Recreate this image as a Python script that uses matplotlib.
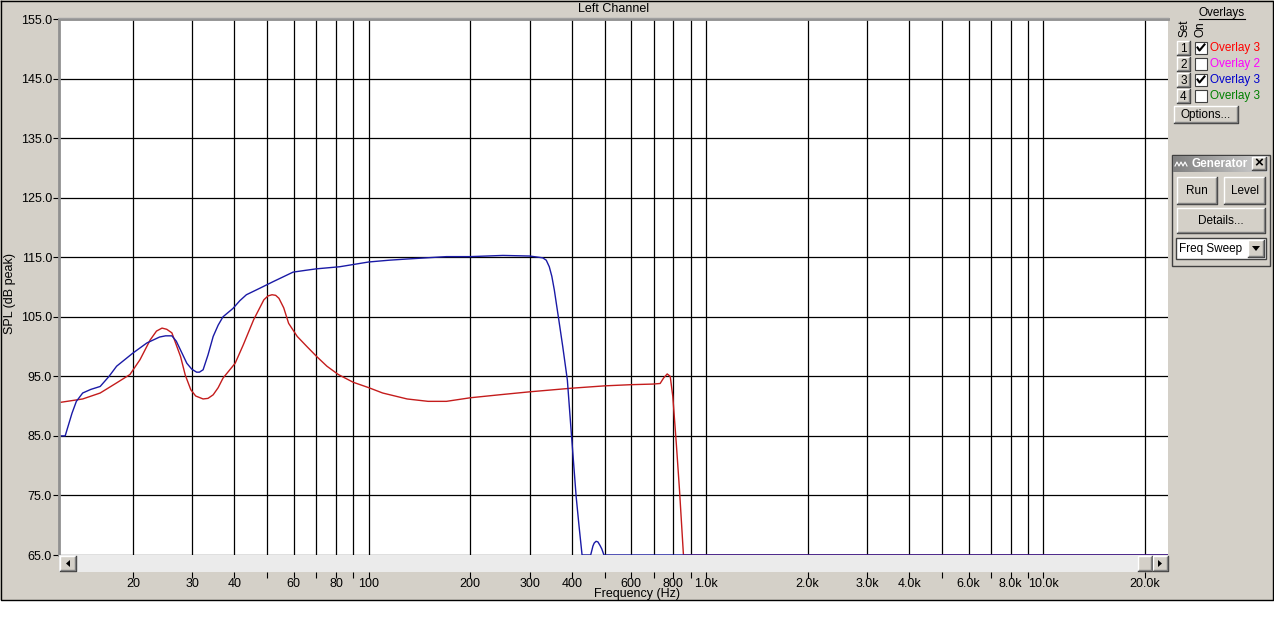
import numpy as np
import matplotlib
matplotlib.use("Agg")
import matplotlib.pyplot as plt
from matplotlib.patches import Rectangle, Polygon

plt.rcParams['font.family'] = ['Liberation Sans', 'DejaVu Sans']

# ---- data
# set 1 (red trace)
red_freq = [12.1, 14.2, 16.0, 17.9, 19.6, 21.0, 22.5, 23.5, 24.4, 25.2, 26.1, 27.7, 28.6,
            29.7, 30.7, 32.3, 33.4, 34.6, 35.8, 37.0, 40.2, 42.5, 45.6, 48.9, 50.3, 51.7,
            53.0, 54.2, 56.0, 57.9, 61.4, 65.6, 70.2, 75.2, 81.3, 90, 100, 110, 130, 150,
            170, 200, 244, 300, 398, 500, 600, 695, 731, 748, 767, 783, 797, 816, 834,
            857, 24000]
red_spl = [90.6, 91.2, 92.2, 93.9, 95.3, 97.8, 101.1, 102.6, 103.1, 102.9, 102.3, 98.3, 95.2,
           92.75, 91.7, 91.2, 91.3, 91.9, 93.1, 94.7, 97.2, 100.3, 104.5, 107.85, 108.5, 108.7,
           108.6, 108.1, 106.5, 103.9, 101.7, 100.0, 98.3, 96.7, 95.3, 94.0, 93.1, 92.2, 91.2,
           90.8, 90.8, 91.4, 91.9, 92.4, 93.0, 93.4, 93.6, 93.7, 93.8, 94.7, 95.4, 95.0, 91.6,
           83.8, 76.0, 65.0, 65.0]

# set 3 (blue trace)
blue_freq = [12.1, 12.6, 13.2, 13.6, 14.2, 15.0, 16.0, 17.0, 17.9, 20.0, 22.0, 24.0,
             25.0, 26.1, 26.9, 27.8, 28.9, 29.9, 30.9, 31.5, 32.3, 33.4, 34.6, 35.8, 37.0,
             39.6, 41.5, 43.4, 47.6, 52.1, 59.7, 65, 70, 82, 100, 115, 130, 170, 200, 250,
             300, 328, 336, 343, 349, 355, 360, 366, 376, 388, 398, 412, 420, 429, 455,
             462, 466, 472, 478, 485, 491, 498, 24000]
blue_spl = [85.0, 85.0, 88.8, 90.8, 92.2, 92.8, 93.3, 95.0, 96.7, 98.9, 100.6, 101.6,
            101.8, 101.8, 100.9, 99.2, 97.2, 96.2, 95.7, 95.7, 96.1, 98.6, 101.7, 103.6, 105.0,
            106.4, 107.7, 108.7, 109.8, 110.9, 112.5, 112.8, 113.05, 113.4, 114.2, 114.5,
            114.7, 115.1, 115.1, 115.3, 115.2, 114.9, 114.5, 113.4, 111.8, 109.5, 107.2,
            104.5, 100.0, 94.4, 86.0, 74.85, 70.0, 65.0, 65.0, 66.5, 67.0, 67.3, 67.2, 66.6,
            66.0, 65.0, 65.0]

grid_freq = [20, 30, 40, 50, 60, 70, 80, 90, 100, 200, 300, 400, 500, 600, 700, 800,
             900, 1000, 2000, 3000, 4000, 5000, 6000, 7000, 8000, 9000, 10000, 20000]
freq_labels = ['20', '30', '40', '', '60', '', '80', '', '100', '200', '300', '400', '',
               '600', '', '800', '', '1.0k', '2.0k', '3.0k', '4.0k', '', '6.0k', '',
               '8.0k', '', '10.0k', '20.0k']
spl_ticks = [65, 75, 85, 95, 105, 115, 125, 135, 145, 155]

overlay_names = ['Overlay 3', 'Overlay 2', 'Overlay 3', 'Overlay 3']
overlay_colors = ['#ff0000', '#ff00ff', '#0000cc', '#008000']
overlay_on = [True, False, True, False]

W, H = 1274, 637
BG = '#d4d0c8'
fig = plt.figure(figsize=(W / 100, H / 100), dpi=100, facecolor=BG)
FS = 9
PFS = 8.5  # side panel text
xlo, xhi = 12.08, 23400

# ---- main plot
ax = fig.add_axes([59 / W, (H - 555) / H, 1109 / W, 536 / H])
ax.set_facecolor('white')
ax.set_xscale('log')
ax.plot(red_freq, red_spl, color='#c41c1c', lw=1.0)
ax.plot(blue_freq, blue_spl, color='#1a1aa6', lw=1.0)
ax.set_xlim(xlo, xhi)
ax.set_ylim(65, 155)
ax.set_xticks(grid_freq)
ax.set_xticklabels([''] * len(grid_freq))
ax.xaxis.set_minor_locator(matplotlib.ticker.NullLocator())
ax.set_yticks(spl_ticks)
ax.set_yticklabels([f'{v:.1f}' for v in spl_ticks], fontsize=FS)
ax.tick_params(axis='x', length=0)
ax.tick_params(axis='y', length=4, pad=1, color='black')
ax.grid(True, color='black', lw=0.9)
ax.set_axisbelow(True)
for s in ['bottom', 'right']:
    ax.spines[s].set_visible(False)
for s in ['left', 'top']:
    ax.spines[s].set_color('#909090')
    ax.spines[s].set_linewidth(2)

# scrollbar strip with the frequency labels below it
sb = fig.add_axes([59 / W, (H - 572) / H, 1109 / W, 17 / H])
sb.set_facecolor('#ebebeb')
sb.set_xscale('log')
sb.set_xlim(xlo, xhi)
sb.set_yticks([])
sb.set_xticks(grid_freq)
sb.set_xticklabels(freq_labels, fontsize=FS)
sb.xaxis.set_minor_locator(matplotlib.ticker.NullLocator())
sb.tick_params(axis='x', length=4, pad=0)
for s in sb.spines.values():
    s.set_visible(False)

# ---- overlay in pixel coords for the window chrome
ui = fig.add_axes([0, 0, 1, 1], zorder=10)
ui.set_xlim(0, W)
ui.set_ylim(H, 0)
ui.axis('off')
ui.patch.set_alpha(0)


def button(x0, y0, x1, y1, label=None, fs=PFS):
    ui.add_patch(Rectangle((x0, y0), x1 - x0, y1 - y0, fc=BG, ec='none'))
    ui.plot([x0, x0, x1], [y1, y0, y0], color='white', lw=1)
    ui.plot([x0, x1, x1], [y1, y1, y0], color='#404040', lw=1)
    ui.plot([x0 + 1, x1 - 1, x1 - 1], [y1 - 1, y1 - 1, y0 + 1], color='#808080', lw=1)
    if label:
        ui.text((x0 + x1) / 2, (y0 + y1) / 2 + 0.5, label, ha='center', va='center', fontsize=fs)


# window frame and white strip below
ui.add_patch(Rectangle((0, 600), W, H - 600, fc='white', ec='none'))
ui.plot([0.5, 0.5, 1273, 1273, 0.5], [0.5, 600, 600, 0.5, 0.5], color='black', lw=1)
ui.plot([59, 1168], [18, 18], color='#a0a0a0', lw=1)

ui.text(614, 9.5, 'Left Channel', ha='center', va='center', fontsize=FS)
ui.text(10, 293, 'SPL (dB peak)', ha='center', va='center', rotation=90, fontsize=FS)
ui.text(637, 594, 'Frequency (Hz)', ha='center', va='center', fontsize=FS)

# scrollbar buttons
button(60, 556, 76, 571)
ui.add_patch(Polygon([[70, 560], [70, 567], [66, 563.5]], fc='black', ec='none'))
button(1138, 556, 1152, 571)
button(1153, 556, 1168, 571)
ui.add_patch(Polygon([[1158, 560], [1158, 567], [1162, 563.5]], fc='black', ec='none'))

# ---- overlays panel
ui.text(1222, 13, 'Overlays', ha='center', va='center', fontsize=PFS)
ui.plot([1199, 1245], [18.5, 18.5], color='black', lw=0.8)
ui.text(1185, 37, 'Set', ha='center', va='bottom', rotation=90, fontsize=PFS)
ui.text(1200, 37, 'On', ha='center', va='bottom', rotation=90, fontsize=PFS)
for i, (name, col, on) in enumerate(zip(overlay_names, overlay_colors, overlay_on)):
    yc = 48 + 16 * i
    button(1177, yc - 7, 1190, yc + 7, str(i + 1))
    ui.add_patch(Rectangle((1195, yc - 6), 12, 12, fc='white', ec='#404040', lw=0.8))
    if on:
        ui.plot([1197.5, 1199.5, 1204.5], [yc - 0.5, yc + 2.5, yc - 3.5], color='black', lw=1.5)
    ui.text(1210, yc + 0.5, name, ha='left', va='center', fontsize=PFS, color=col)
button(1174, 106, 1238, 123, 'Options...')

# ---- generator window
ui.add_patch(Rectangle((1171.5, 154.5), 98, 111, fc=BG, ec='#404040', lw=1))
grad = np.linspace(0, 1, 64).reshape(1, -1)
ui.imshow(grad, cmap=matplotlib.colors.LinearSegmentedColormap.from_list('t', ['#808080', '#d0d0d0']),
          extent=(1173, 1268, 172, 156), aspect='auto', zorder=1)
ui.set_xlim(0, W)
ui.set_ylim(H, 0)
ui.plot([1175, 1177, 1179, 1181, 1183, 1185, 1187], [166, 162, 166, 162, 166, 162, 166],
        color='white', lw=0.8, zorder=3)
ui.text(1191, 164, 'Generator', ha='left', va='center', fontsize=PFS, color='white',
        fontweight='bold', zorder=3)
button(1252, 157, 1266, 170)
ui.text(1259, 163.5, '×', ha='center', va='center', fontsize=11, fontweight='bold', zorder=4)
button(1177, 177, 1217, 204, 'Run')
button(1224, 177, 1265, 204, 'Level')
button(1177, 208, 1265, 233, 'Details...')
ui.add_patch(Rectangle((1176, 238), 90, 21, fc='white', ec='#404040', lw=1))
ui.text(1179, 249, 'Freq Sweep', ha='left', va='center', fontsize=PFS)
button(1248, 240, 1264, 257)
ui.add_patch(Polygon([[1252, 246], [1260, 246], [1256, 251]], fc='black', ec='none', zorder=5))

fig.savefig('out.png', dpi=100, facecolor=BG)
